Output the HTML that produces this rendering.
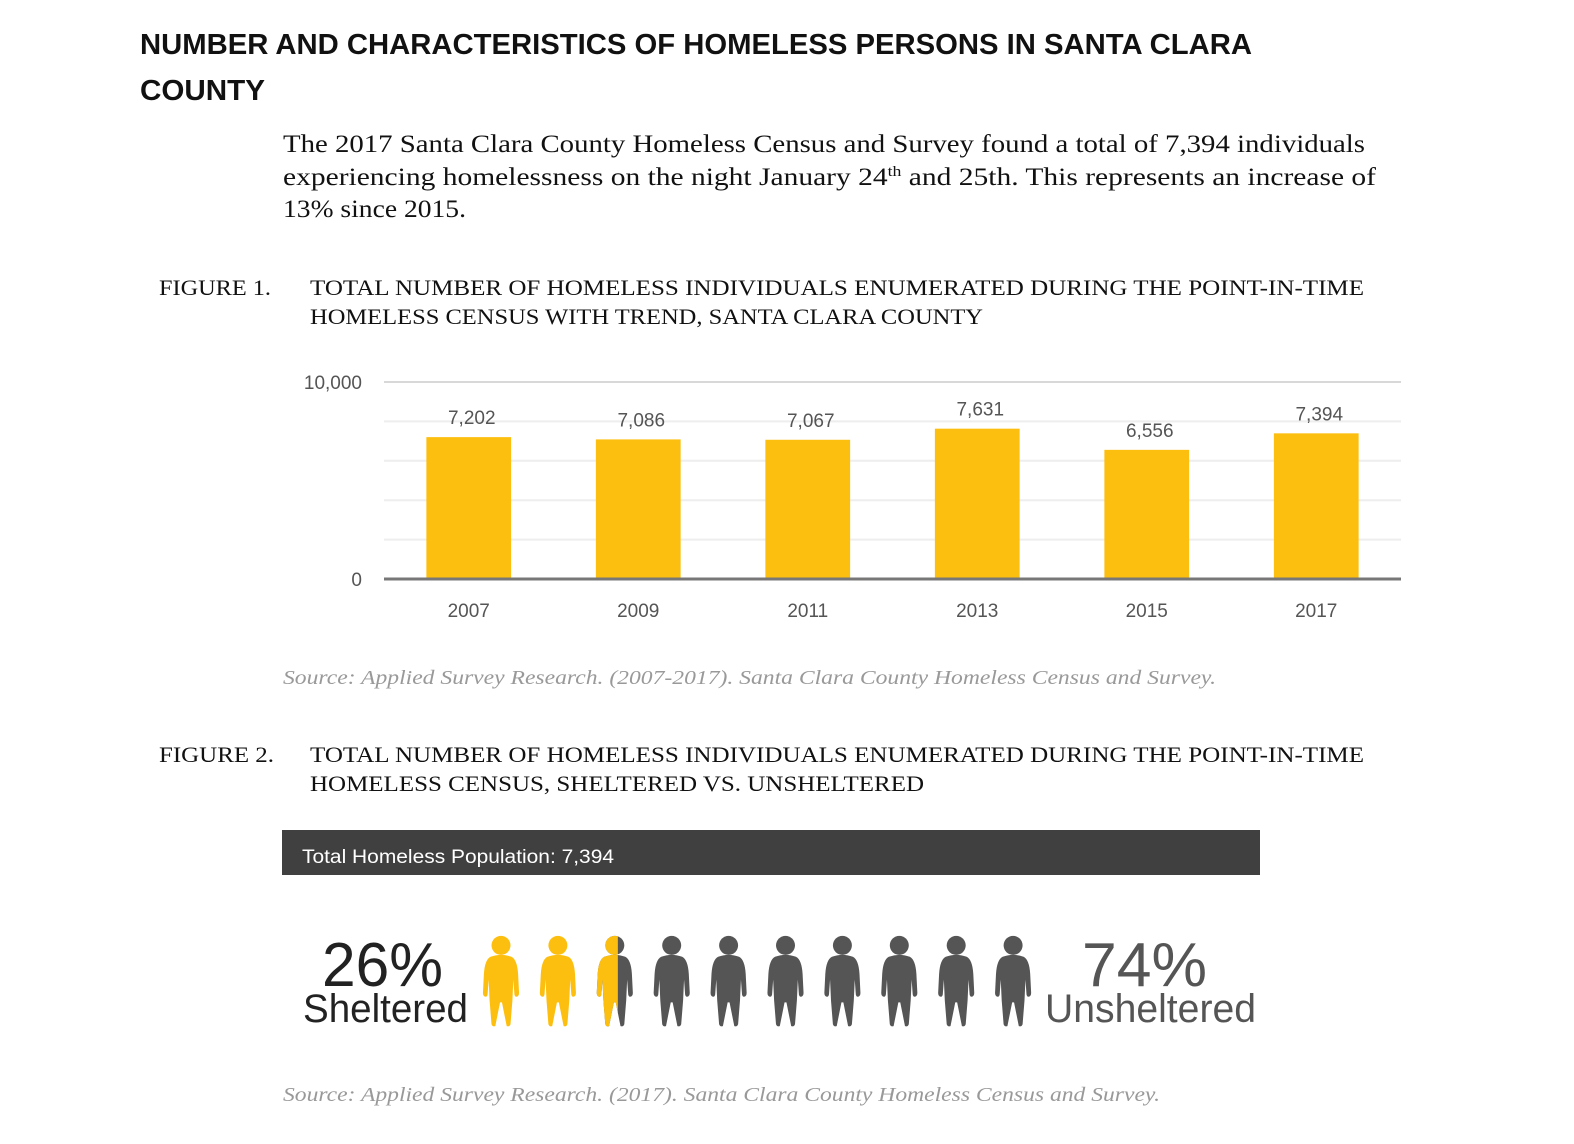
<!DOCTYPE html>
<html><head><meta charset="utf-8"><style>
body{margin:0;background:#fff;}
svg{display:block}
.t{font-family:"Liberation Sans",sans-serif;font-weight:bold;font-size:29px;fill:#111}
.s{font-family:"Liberation Serif",serif;fill:#111}
.src{font-family:"Liberation Serif",serif;font-style:italic;font-size:20px;fill:#999}
.ax{font-family:"Liberation Sans",sans-serif;font-size:19px;fill:#555}
</style></head><body>
<svg id="page" width="1574" height="1144" viewBox="0 0 1574 1144" xmlns="http://www.w3.org/2000/svg">
<defs>
<symbol id="person" viewBox="0 0 40 96">
<circle cx="20" cy="10" r="10"/>
<path d="M9 22 Q20 18 31 22 Q37 25 38 40 L39 60 Q39 64 36 64 Q34 64 34 60 L33 46 L32 68 L30 93 Q29 96 26 95 L21 70 L19 70 L14 95 Q11 96 10 93 L8 68 L7 46 L6 60 Q6 64 4 64 Q1 64 1 60 L2 40 Q3 25 9 22Z"/>
</symbol>
</defs>
<text class="t" x="140" y="54" textLength="1112" lengthAdjust="spacingAndGlyphs">NUMBER AND CHARACTERISTICS OF HOMELESS PERSONS IN SANTA CLARA</text>
<text class="t" x="140" y="100" textLength="125" lengthAdjust="spacingAndGlyphs">COUNTY</text>
<g class="s" font-size="25">
<text x="283" y="152" textLength="1082" lengthAdjust="spacingAndGlyphs">The 2017 Santa Clara County Homeless Census and Survey found a total of 7,394 individuals</text>
<text x="283" y="185" textLength="1093" lengthAdjust="spacingAndGlyphs">experiencing homelessness on the night January 24<tspan font-size="15" dy="-9">th</tspan><tspan dy="9"> and 25th. This represents an increase of</tspan></text>
<text x="283" y="217" textLength="183" lengthAdjust="spacingAndGlyphs">13% since 2015.</text>
</g>
<g class="s" font-size="22">
<text x="159" y="295" textLength="112" lengthAdjust="spacingAndGlyphs">FIGURE 1.</text>
<text x="310" y="295" textLength="1054" lengthAdjust="spacingAndGlyphs">TOTAL NUMBER OF HOMELESS INDIVIDUALS ENUMERATED DURING THE POINT-IN-TIME</text>
<text x="310" y="324" textLength="673" lengthAdjust="spacingAndGlyphs">HOMELESS CENSUS WITH TREND, SANTA CLARA COUNTY</text>
</g>
<g id="chart"></g>
<text class="src" x="283" y="684" textLength="933" lengthAdjust="spacingAndGlyphs">Source: Applied Survey Research. (2007-2017). Santa Clara County Homeless Census and Survey.</text>
<g class="s" font-size="22">
<text x="159" y="762" textLength="115" lengthAdjust="spacingAndGlyphs">FIGURE 2.</text>
<text x="310" y="762" textLength="1054" lengthAdjust="spacingAndGlyphs">TOTAL NUMBER OF HOMELESS INDIVIDUALS ENUMERATED DURING THE POINT-IN-TIME</text>
<text x="310" y="791" textLength="614" lengthAdjust="spacingAndGlyphs">HOMELESS CENSUS, SHELTERED VS. UNSHELTERED</text>
</g>
<rect x="282" y="830" width="978" height="45" fill="#404040"/>
<text x="302" y="863" font-family="Liberation Sans,sans-serif" font-size="19" fill="#fff" textLength="312" lengthAdjust="spacingAndGlyphs">Total Homeless Population: 7,394</text>
<g font-family="Liberation Sans,sans-serif">
<text x="322" y="986" font-size="62" fill="#222" textLength="121" lengthAdjust="spacingAndGlyphs">26%</text>
<text x="303" y="1022" font-size="40" fill="#222" textLength="165" lengthAdjust="spacingAndGlyphs">Sheltered</text>
<text x="1082" y="986" font-size="62" fill="#555" textLength="125" lengthAdjust="spacingAndGlyphs">74%</text>
<text x="1045" y="1022" font-size="40" fill="#555" textLength="211" lengthAdjust="spacingAndGlyphs">Unsheltered</text>
</g>
<g id="people"></g>
<text class="src" x="283" y="1101" textLength="877" lengthAdjust="spacingAndGlyphs">Source: Applied Survey Research. (2017). Santa Clara County Homeless Census and Survey.</text>
</svg>
<script>
const years = ["2007","2009","2011","2013","2015","2017"];
const counts = [7202, 7086, 7067, 7631, 6556, 7394];
const valueLabels = ["7,202","7,086","7,067","7,631","6,556","7,394"];
const yTicks = [0, 2000, 4000, 6000, 8000, 10000];
const yTickLabels = {0:"0", 10000:"10,000"};
const shelteredPct = [26];
const NS = "http://www.w3.org/2000/svg";
const X0 = 384, X1 = 1401, Y0 = 579, Y1 = 382, YMAX = 10000;
const y = v => Y0 - (v / YMAX) * (Y0 - Y1);
const band = (X1 - X0) / years.length;
const xc = i => X0 + band * (i + 0.5);
function mk(tag, attrs, parent) { const e = document.createElementNS(NS, tag); for (const k in attrs) e.setAttribute(k, attrs[k]); parent.appendChild(e); return e; }
const chart = document.getElementById('chart');
yTicks.forEach(t => {
  if (t === 0) return;
  const l = mk('line', {x1: X0, x2: X1, y1: y(t), y2: y(t), stroke: t === YMAX ? '#d8d8d8' : '#eeeeee', 'stroke-width': 2}, chart);
  
  
  if (yTickLabels[t]) {
    const tx = mk('text', {x: 362, y: y(t) + 7, 'text-anchor': 'end', class: 'ax'}, chart);
    tx.textContent = yTickLabels[t];
    
    
  }
});
const z = mk('text', {x: 362, y: Y0 + 7, 'text-anchor': 'end', class: 'ax'}, chart);
z.textContent = yTickLabels[0];


counts.forEach((v, i) => {
  const bw = band * 0.5;
  const r = mk('rect', {x: xc(i) - bw / 2, y: y(v), width: bw, height: Y0 - y(v), fill: '#FDBF0F'}, chart);
  
  
  const vl = mk('text', {x: xc(i) + 3, y: y(v) - 13, 'text-anchor': 'middle', class: 'ax'}, chart);
  vl.textContent = valueLabels[i];
  
  
  const xl = mk('text', {x: xc(i), y: 617, 'text-anchor': 'middle', class: 'ax'}, chart);
  xl.textContent = years[i];
  
  
});
const ax = mk('line', {x1: X0, x2: X1, y1: Y0, y2: Y0, stroke: '#777', 'stroke-width': 3}, chart);


// pictogram
const people = document.getElementById('people');
const filled = shelteredPct[0] / 10;
const defs = document.querySelector('defs');
for (let i = 0; i < 10; i++) {
  const cx = 501 + i * 56.9;
  const g = mk('g', {}, people);
  
  
  const frac = Math.max(0, Math.min(1, filled - i));
  if (frac >= 1 || frac <= 0) {
    mk('use', {href: '#person', x: cx - 19, y: 934, width: 38, height: 95, fill: frac >= 1 ? '#FDBF0F' : '#555'}, g);
  } else {
    const cid = 'clip' + i;
    const cp = mk('clipPath', {id: cid, clipPathUnits: 'userSpaceOnUse'}, defs);
    mk('rect', {x: cx - 19, y: 930, width: 38 * 0.58, height: 100}, cp);
    mk('use', {href: '#person', x: cx - 19, y: 934, width: 38, height: 95, fill: '#555'}, g);
    const cg = mk('g', {'clip-path': 'url(#' + cid + ')'}, g);
    mk('use', {href: '#person', x: cx - 19, y: 934, width: 38, height: 95, fill: '#FDBF0F'}, cg);
  }
}
</script>
</body></html>
